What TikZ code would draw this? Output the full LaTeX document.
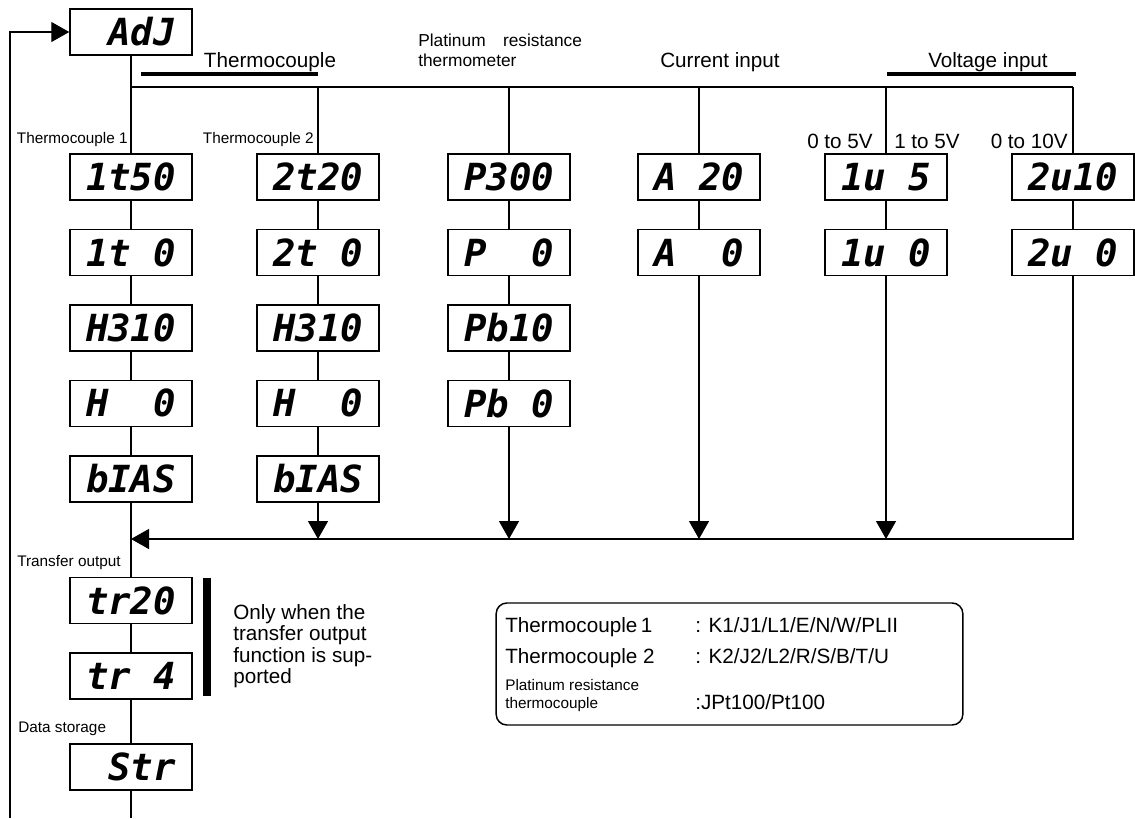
\documentclass[tikz,border=0pt]{standalone}
\usepackage{fontspec}
\setmainfont{Liberation Sans}
\newfontfamily\segfont{DejaVu Sans Mono}
\usetikzlibrary{positioning, arrows.meta}
\tikzset{
  seg/.style={
    rectangle, draw, line width=1.1pt, minimum width=91.5pt, minimum height=34.5pt,
    inner sep=0pt, font=\segfont\bfseries\itshape\fontsize{28}{28}\selectfont
  },
  biglabel/.style={font=\fontsize{15.5}{16.1}\selectfont, inner sep=0pt, align=left},
  midlabel/.style={font=\fontsize{13}{15}\selectfont, inner sep=0pt, align=left},
  smalllabel/.style={font=\fontsize{11.5}{13.5}\selectfont, inner sep=0pt, align=left},
  wire/.style={line width=1pt},
  arrow/.style={line width=1pt, -{Triangle[length=13.5pt, width=15pt]}},
  groupbar/.style={line width=3pt},
  legend/.style={rectangle, rounded corners=8pt, draw, line width=1.1pt,
    minimum width=350pt, minimum height=91.5pt},
}
\begin{document}
\begin{tikzpicture}[x=0.75pt, y=-0.75pt, node distance=21pt]
  \useasboundingbox (0,0) rectangle (1135,818);

  \node[seg] (adj) at (131,32) {~AdJ};

  % thermocouple 1
  \node[seg] (tcA1) at (131,177) {1t50};
  \node[seg, below=of tcA1] (tcA2) {1t~0};
  \node[seg, below=of tcA2] (tcA3) {H310};
  \node[seg, below=of tcA3] (tcA4) {H~~0};
  \node[seg, below=of tcA4] (tcA5) {bIAS};

  % thermocouple 2
  \node[seg] (tcB1) at (318,177) {2t20};
  \node[seg, below=of tcB1] (tcB2) {2t~0};
  \node[seg, below=of tcB2] (tcB3) {H310};
  \node[seg, below=of tcB3] (tcB4) {H~~0};
  \node[seg, below=of tcB4] (tcB5) {bIAS};

  % platinum resistance
  \node[seg] (pt1) at (509,177) {P300};
  \node[seg, below=of pt1] (pt2) {P~~0};
  \node[seg, below=of pt2] (pt3) {Pb10};
  \node[seg, below=of pt3] (pt4) {Pb~0};

  % current, voltage
  \node[seg] (cur1) at (699,177) {A~20};
  \node[seg, below=of cur1] (cur2) {A~~0};
  \node[seg] (vA1) at (886,177) {1u~5};
  \node[seg, below=of vA1] (vA2) {1u~0};
  \node[seg] (vB1) at (1073,177) {2u10};
  \node[seg, below=of vB1] (vB2) {2u~0};

  % transfer output, data storage
  \node[seg] (tr1) at (131,600.5) {tr20};
  \node[seg, below=of tr1] (tr2) {tr~4};
  \node[seg, below=32.75pt of tr2] (str) {~Str};

  % group labels
  \node[biglabel, anchor=base] (lblTc) at (270,67) {Thermocouple};
  \node[midlabel, anchor=north west] (lblPt) at (418,33.5) {Platinum\quad resistance\\thermometer};
  \node[biglabel, anchor=base] (lblCur) at (720,67) {Current input};
  \node[biglabel, anchor=base] (lblVolt) at (988,67) {Voltage input};
  \draw[groupbar] (141,74) -- (318,74);
  \draw[groupbar] (887,74) -- (1076,74);

  \node[smalllabel, anchor=base east] (lblTcA) at (128,143) {Thermocouple 1};
  \node[smalllabel, anchor=base east] (lblTcB) at (314,143) {Thermocouple 2};
  \node[biglabel, anchor=base east] (lblVA) at (873,148) {0 to 5V};
  \node[biglabel, anchor=base west] (lblVB) at (894,148) {1 to 5V};
  \node[biglabel, anchor=base east] (lblVC) at (1068,148) {0 to 10V};
  \node[smalllabel, anchor=base west] (lblTr) at (17,566) {Transfer output};
  \node[smalllabel, anchor=base west] (lblStr) at (18,732) {Data storage};

  % transfer note
  \draw[line width=6pt] (207,578) -- (207,696);
  \node[biglabel, anchor=north west] (note) at (233,604)
    {Only when the\\transfer output\\function is sup-\\ported};

  % legend
  \node[legend] (key) at (729.5,664) {};
  \node[biglabel, anchor=base west] (keyA) at (505,632) {Thermocouple\,1};
  \node[biglabel, anchor=base west] (keyAv) at (695,632) {: K1/J1/L1/E/N/W/PLII};
  \node[biglabel, anchor=base west] (keyB) at (505,663) {Thermocouple 2};
  \node[biglabel, anchor=base west] (keyBv) at (695,663) {: K2/J2/L2/R/S/B/T/U};
  \node[smalllabel, anchor=north west] (keyC) at (505,679) {Platinum resistance\\thermocouple};
  \node[biglabel, anchor=base west] (keyCv) at (695,709) {:JPt100/Pt100};

  % connectors
  \coordinate (busL) at (131,87);
  \coordinate (ret) at (131,539);
  \coordinate (endA) at (131,818);
  \coordinate (loop) at (10,818);

  \draw[wire] (adj) -- (tcA1);
  \draw[wire] (busL) -- (vB1.north |- busL);
  \foreach \c in {tcB1, pt1, cur1, vA1, vB1}
    \draw[wire] (\c.north |- busL) -- (\c.north);

  \draw[wire] (tcA1) -- (tcA2) -- (tcA3) -- (tcA4) -- (tcA5) -- (tr1) -- (tr2) -- (str);
  \draw[wire] (tcB1) -- (tcB2) -- (tcB3) -- (tcB4) -- (tcB5);
  \draw[wire] (pt1) -- (pt2) -- (pt3) -- (pt4);
  \draw[wire] (cur1) -- (cur2);
  \draw[wire] (vA1) -- (vA2);
  \draw[wire] (vB1) -- (vB2);

  \draw[arrow] (vB2.south) |- (ret);
  \foreach \c in {tcB5, pt4, cur2, vA2}
    \draw[arrow] (\c.south) -- (\c.south |- ret);

  \draw[wire] (str) -- (endA);
  \draw[arrow] (loop) |- (adj.west);

\end{tikzpicture}
\end{document}
